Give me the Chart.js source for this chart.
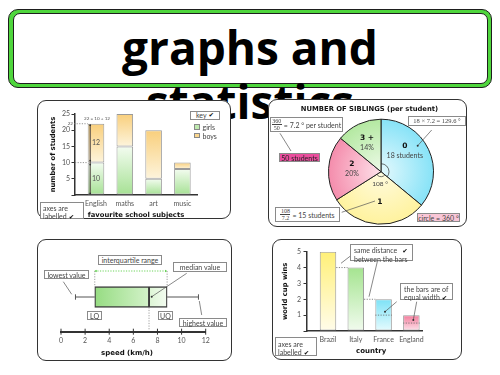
<!DOCTYPE html>
<html><head><meta charset="utf-8">
<script src="https://cdn.jsdelivr.net/npm/chart.js@4.4.1/dist/chart.umd.min.js"></script>
<style>
html,body{margin:0;padding:0;background:#fff;}
#root{position:relative;width:500px;height:375px;overflow:hidden;background:#fff;font-family:Lato,'DejaVu Sans',sans-serif;}
.abs{position:absolute;}
#tOuter{left:8px;top:9px;width:484px;height:79px;background:#4fd63d;border:1.5px solid #1e1e1e;border-radius:10px;box-sizing:border-box;}
#tInner{left:13px;top:13px;width:475px;height:71px;background:#fff;border:1.5px solid #1e1e1e;border-radius:7px;box-sizing:border-box;}
#title{left:0;top:20px;width:500px;text-align:center;font:700 46px/54px 'Open Sans',sans-serif;color:#000;}
.panel{position:absolute;background:#fff;border-radius:9px;}
.panel::after{content:'';position:absolute;left:0;top:0;right:0;bottom:0;border:1.3px solid #333;border-radius:9px;z-index:1;pointer-events:none;}
.panel canvas{position:absolute;left:0;top:0;}
.note{position:absolute;z-index:2;box-sizing:border-box;border:0.8px solid #8a8a8a;background:#fff;color:#444;font:7px/8px Lato,'DejaVu Sans',sans-serif;white-space:nowrap;display:flex;align-items:center;justify-content:center;}
.multi{display:block;text-align:left;padding:0.5px 2px;}
.txt{position:absolute;z-index:2;color:#444;font:7px/8px Lato,sans-serif;white-space:nowrap;}
.axt{position:absolute;z-index:2;color:#111;font:700 6.8px/8px 'DejaVu Sans',sans-serif;white-space:nowrap;}
.ck{font-family:'DejaVu Sans';font-size:6.5px;color:#111;margin-left:2px;}
.frac{display:inline-flex;flex-direction:column;align-items:center;font:6px/6px 'Liberation Serif',serif;margin-right:2px;}
.frac span:first-child{border-bottom:0.6px solid #444;padding:0 0.5px;}
.serif{font-family:'Liberation Serif',serif;font-size:6.5px;}
.sw{position:absolute;z-index:2;width:6px;height:5.4px;border:0.7px solid #888;box-sizing:border-box;}
</style></head>
<body>
<div id="root">
  <div id="tOuter" class="abs"></div>
  <div id="tInner" class="abs"></div>
  <div id="title" class="abs">graphs and<br>statistics</div>

  <div class="panel" style="left:37px;top:100px;width:194px;height:119px">
    <canvas id="c1" width="194" height="119"></canvas>
    <div class="note" style="left:153px;top:11px;width:30px;height:8.5px">key<span class="ck">✔</span></div>
    <div class="sw" id="swg" style="left:157px;top:24.3px"></div>
    <div class="txt" id="lg" style="left:165.5px;top:23px"></div>
    <div class="sw" id="swb" style="left:157px;top:32.7px"></div>
    <div class="txt" id="lb" style="left:165.5px;top:31.5px"></div>
    <div class="note multi" style="left:3px;top:102px;width:44px;height:17px">axes are<br>labelled<span class="ck">✔</span></div>
  </div>

  <div class="panel" style="left:268px;top:99px;width:199px;height:128px">
    <canvas id="c2" width="199" height="128"></canvas>
    <div class="txt" style="left:0;top:6px;width:203px;text-align:center;color:#111;font:700 6.8px/8px 'DejaVu Sans',sans-serif">NUMBER OF SIBLINGS (per student)</div>
    <div class="note" style="left:2px;top:18px;width:73px;height:15px"><span class="frac"><span>360</span><span>50</span></span>= 7.2 ° per student</div>
    <div class="note" style="left:11px;top:54px;width:41px;height:9px;background:#ea4d9d;color:#222">50 students</div>
    <div class="note serif" style="left:140px;top:17px;width:58px;height:10px">18 × 7.2 = 129.6 °</div>
    <div class="note" style="left:7px;top:108px;width:65px;height:15px"><span class="frac"><span>108</span><span>7.2</span></span>= 15 students</div>
    <div class="note" style="left:149px;top:114px;width:43px;height:9px;background:#f9c6d6">circle = 360 °</div>
  </div>

  <div class="panel" style="left:37px;top:239px;width:195px;height:122px">
    <canvas id="c3" width="195" height="122"></canvas>
    <div class="note" style="left:61px;top:16px;width:64px;height:10px">interquartile range</div>
    <div class="note" style="left:7px;top:31px;width:45px;height:9px">lowest value</div>
    <div class="note" style="left:136px;top:23px;width:54px;height:10px">median value</div>
    <div class="note" style="left:50px;top:72px;width:15px;height:9px">LQ</div>
    <div class="note" style="left:121px;top:72px;width:15px;height:9px">UQ</div>
    <div class="note" style="left:142px;top:79px;width:48px;height:9px">highest value</div>
    <div class="axt" style="left:64px;top:110px;width:45px;text-align:center;font-size:7px">speed (km/h)</div>
  </div>

  <div class="panel" style="left:272px;top:239px;width:190px;height:121px">
    <canvas id="c4" width="190" height="121"></canvas>
    <div class="note multi" style="left:78px;top:5px;width:63px;height:17px;padding-left:3px">same distance<span class="ck" style="margin-left:5px">✔</span><br>between the bars</div>
    <div class="note multi" style="left:128px;top:44px;width:53px;height:17px;padding-left:3px">the bars are of<br>equal width<span class="ck">✔</span></div>
    <div class="note multi" style="left:3px;top:98px;width:42px;height:19px;padding-top:1.5px">axes are<br>labelled<span class="ck">✔</span></div>
    <div class="axt" style="left:84px;top:108px;width:30px;text-align:center;font-size:7px">country</div>
  </div>
</div>

<script>
// ---------- data ----------
const subjects = ['English', 'maths', 'art', 'music'];
const girls = [10, 15, 5, 8];
const boys = [12, 10, 15, 2];
const studentTicks = [0, 5, 10, 15, 20, 25];

const siblingLabels = ['0', '1', '2', '3 +'];
const siblingCounts = [18, 15, 10, 7];

const speedBox = [1.2, 2.8, 7.3, 8.8, 11.4]; // lowest, LQ, median, UQ, highest
const speedTicks = [0, 2, 4, 6, 8, 10, 12];

const countries = ['Brazil', 'Italy', 'France', 'England'];
const wins = [5, 4, 2, 1];
const winTicks = [0, 1, 2, 3, 4, 5];

// ---------- styling ----------
Chart.defaults.font.family = "Lato, 'DejaVu Sans', sans-serif";
Chart.defaults.font.size = 7;
Chart.defaults.color = '#555';
const titleFont = {family: 'DejaVu Sans', weight: 'bold', size: 6.8, lineHeight: 1};

function vGrad(chart, yTop, yBot, cTop, cBot) {
  const g = chart.ctx.createLinearGradient(0, yTop, 0, yBot);
  g.addColorStop(0, cTop); g.addColorStop(1, cBot); return g;
}
function hGrad(chart, x1, x2, c1, c2) {
  const g = chart.ctx.createLinearGradient(x1, 0, x2, 0);
  g.addColorStop(0, c1); g.addColorStop(1, c2); return g;
}
function dotted(ctx, pts, color, w) {
  ctx.save(); ctx.setLineDash([1.2, 1.4]); ctx.strokeStyle = color; ctx.lineWidth = w || 0.8;
  ctx.beginPath(); ctx.moveTo(pts[0], pts[1]); ctx.lineTo(pts[2], pts[3]); ctx.stroke(); ctx.restore();
}
function connector(ctx, l, dot) {
  ctx.save(); ctx.strokeStyle = '#555'; ctx.lineWidth = 0.7;
  ctx.beginPath(); ctx.moveTo(l[0], l[1]); ctx.lineTo(l[2], l[3]); ctx.stroke();
  if (dot) { ctx.fillStyle = '#333'; ctx.beginPath(); ctx.arc(l[2], l[3], 1, 0, Math.PI * 2); ctx.fill(); }
  ctx.restore();
}
const yTicksFrom = arr => s => { s.ticks = arr.map(v => ({value: v})); };
const xTicksFrom = arr => s => { s.ticks = arr.map((_, i) => ({value: i + 1})); };

const girlsColor = '#bfeab0', boysColor = '#fbd78e';
document.getElementById('swg').style.background = girlsColor;
document.getElementById('swb').style.background = boysColor;
document.getElementById('lg').textContent = 'girls';
document.getElementById('lb').textContent = 'boys';

// ---------- chart 1 : stacked bars ----------
const p1Notes = {
  id: 'p1Notes',
  afterDatasetsDraw(chart) {
    const {ctx, scales: {x, y}} = chart;
    const g = chart.getDatasetMeta(0).data[0];
    const left = g.x - g.width / 2;
    const total = girls[0] + boys[0];
    dotted(ctx, [x.left - 1, y.getPixelForValue(total), left, y.getPixelForValue(total)], '#777');
    dotted(ctx, [x.left, y.getPixelForValue(girls[0]), left, y.getPixelForValue(girls[0])], '#777');
    ctx.save();
    ctx.font = "4.6px Lato, sans-serif"; ctx.fillStyle = '#555';
    ctx.textAlign = 'right'; ctx.textBaseline = 'middle';
    ctx.fillText(String(total), x.left - 2, y.getPixelForValue(total));
    ctx.textAlign = 'center';
    ctx.fillText(total + ' = ' + girls[0] + ' + ' + boys[0], g.x + 1, y.getPixelForValue(total) - 5.5);
    const lx = left + 2.5;
    ctx.strokeStyle = '#5a5048'; ctx.lineWidth = 1.2;
    ctx.beginPath(); ctx.moveTo(lx, y.getPixelForValue(total) + 1); ctx.lineTo(lx, y.getPixelForValue(0) - 1); ctx.stroke();
    ctx.fillStyle = '#333';
    [y.getPixelForValue(total) + 1.5, y.getPixelForValue(girls[0]) - 2, y.getPixelForValue(girls[0]) + 2, y.getPixelForValue(0) - 1.5].forEach(py => {
      ctx.beginPath(); ctx.arc(lx, py, 0.9, 0, Math.PI * 2); ctx.fill();
    });
    ctx.font = "7px Lato, sans-serif"; ctx.fillStyle = '#555';
    ctx.fillText(String(boys[0]), g.x, y.getPixelForValue(girls[0] + boys[0] / 2));
    ctx.fillText(String(girls[0]), g.x, y.getPixelForValue(girls[0] / 2));
    ctx.restore();
  }
};

new Chart(document.getElementById('c1'), {
  type: 'bar',
  data: {
    datasets: [
      {label: 'girls', data: girls.map((v, i) => ({x: i + 1, y: v})),
       backgroundColor: c => {
         const ch = c.chart; if (c.type !== 'data' || !ch.chartArea) return girlsColor;
         const y = ch.scales.y;
         return vGrad(ch, y.getPixelForValue(girls[c.dataIndex]), y.getPixelForValue(0), '#f3fcf0', '#a6e194');
       },
       borderColor: '#9a9a9a', borderWidth: 1, borderSkipped: false, barPercentage: 0.576, categoryPercentage: 1},
      {label: 'boys', data: boys.map((v, i) => ({x: i + 1, y: v})),
       backgroundColor: c => {
         const ch = c.chart; if (c.type !== 'data' || !ch.chartArea) return boysColor;
         const y = ch.scales.y, i = c.dataIndex;
         return vGrad(ch, y.getPixelForValue(girls[i] + boys[i]), y.getPixelForValue(girls[i]), '#f9cf7c', '#fdf4dc');
       },
       borderColor: '#9a9a9a', borderWidth: 1, borderSkipped: false, barPercentage: 0.576, categoryPercentage: 1}
    ]
  },
  options: {
    responsive: false, animation: false, devicePixelRatio: 1,
    layout: {padding: {left: 0, top: 14, right: 34, bottom: 0}},
    plugins: {legend: {display: false}, tooltip: {enabled: false}},
    scales: {
      x: {type: 'linear', offset: false, stacked: true, min: 0.271, max: 4.507,
          afterBuildTicks: xTicksFrom(subjects),
          ticks: {callback: v => subjects[v - 1] || '', padding: 4.5, autoSkip: false, maxRotation: 0},
          grid: {display: false, drawTicks: false, tickLength: 0}, border: {display: true, color: '#333', width: 1.5},
          title: {display: true, text: 'favourite school subjects', font: titleFont, color: '#111', padding: {top: 0, bottom: 0.6}},
          afterFit: s => { s.height = 24; }},
      y: {stacked: true, min: 0, max: 25,
          afterBuildTicks: yTicksFrom(studentTicks),
          ticks: {callback: v => v === 0 ? '' : v, padding: 1.5},
          grid: {drawOnChartArea: false, drawTicks: true, tickLength: 3.5, color: '#333', lineWidth: 1},
          border: {display: true, color: '#333', width: 1.5},
          title: {display: true, text: 'number of students', font: titleFont, color: '#111', padding: {top: 12.9, bottom: 0}},
          afterFit: s => { s.width = 38; }}
    }
  },
  plugins: [p1Notes]
});

// ---------- chart 2 : pie ----------
const pieInner = ['#e4f9fd', '#fffbe0', '#fde1ea', '#edfae8'];
const pieOuter = ['#84e2f7', '#fff29c', '#f48aaa', '#b2e89f'];
const total2 = siblingCounts.reduce((a, b) => a + b, 0);
const pieLabelPos = [[49, 0.6], [182, 0.58], [275, 0.555], [334, 0.61]];
const p2Notes = {
  id: 'p2Notes',
  afterDatasetsDraw(chart) {
    const {ctx} = chart;
    const arcs = chart.getDatasetMeta(0).data;
    const cx = arcs[0].x, cy = arcs[0].y, R = arcs[0].outerRadius;
    ctx.save();
    ctx.strokeStyle = '#333'; ctx.lineWidth = 0.7;
    ctx.beginPath(); ctx.arc(cx, cy, 8, arcs[0].startAngle, arcs[0].endAngle); ctx.stroke();
    ctx.beginPath(); ctx.arc(cx, cy, 5, arcs[1].startAngle, arcs[1].endAngle); ctx.stroke();
    ctx.textAlign = 'center'; ctx.textBaseline = 'middle';
    siblingCounts.forEach((v, i) => {
      const a = pieLabelPos[i][0] * Math.PI / 180, r = pieLabelPos[i][1] * R;
      const px = cx + Math.sin(a) * r, py = cy - Math.cos(a) * r;
      let second = '';
      if (i === 0) second = v + ' students';
      if (i >= 2) second = Math.round(v / total2 * 100) + '%';
      ctx.fillStyle = '#111';
      ctx.font = "bold 7.5px 'DejaVu Sans', sans-serif";
      ctx.fillText(siblingLabels[i], px, second ? py - 5 : py);
      if (second) { ctx.font = "7px Lato, sans-serif"; ctx.fillStyle = '#444'; ctx.fillText(second, px, py + 5); }
    });
    ctx.font = "6.5px Lato, sans-serif"; ctx.fillStyle = '#444';
    ctx.fillText(Math.round(siblingCounts[1] * 360 / total2) + ' °', cx - 1, cy + 12.5);
    ctx.restore();
    connector(ctx, [12, 34.3, 23, 52], false);
    connector(ctx, [163.7, 31, 149.7, 46.7], true);
    connector(ctx, [73.7, 113.3, 107, 102], false);
  }
};
new Chart(document.getElementById('c2'), {
  type: 'pie',
  data: {labels: siblingLabels, datasets: [{
    data: siblingCounts,
    backgroundColor: c => {
      const ch = c.chart, a = ch.chartArea, i = c.dataIndex;
      if (c.type !== 'data' || !a) return pieOuter[i];
      const cx = (a.left + a.right) / 2, cy = (a.top + a.bottom) / 2;
      const g = ch.ctx.createRadialGradient(cx, cy, 0, cx, cy, 54);
      g.addColorStop(0, pieInner[i]); g.addColorStop(1, pieOuter[i]); return g;
    },
    borderColor: '#222', borderWidth: 1
  }]},
  options: {
    responsive: false, animation: false, devicePixelRatio: 1, radius: 52.5,
    layout: {padding: {left: 60.5, right: 33.5, top: 20.2, bottom: 2.8}},
    plugins: {legend: {display: false}, tooltip: {enabled: false}}
  },
  plugins: [p2Notes]
});

// ---------- chart 3 : box plot ----------
const p3Notes = {
  id: 'p3Notes',
  afterDatasetsDraw(chart) {
    const {ctx, scales: {x}} = chart;
    const bar = chart.getDatasetMeta(0).data[0];
    const cy = bar.y, h = bar.height;
    const top = cy - h / 2, bot = cy + h / 2;
    const [mn, lq, md, uq, mx] = speedBox.map(v => x.getPixelForValue(v));
    ctx.save();
    ctx.strokeStyle = '#555'; ctx.lineWidth = 1;
    ctx.beginPath();
    ctx.moveTo(mn, cy); ctx.lineTo(lq, cy);
    ctx.moveTo(uq, cy); ctx.lineTo(mx, cy);
    ctx.moveTo(mn, cy - 2.7); ctx.lineTo(mn, cy + 2.7);
    ctx.moveTo(mx, cy - 2.7); ctx.lineTo(mx, cy + 2.7);
    ctx.stroke();
    const ay = x.top;
    ctx.strokeStyle = '#333'; ctx.lineWidth = 1;
    ctx.beginPath();
    speedTicks.forEach(v => { const px = x.getPixelForValue(v); ctx.moveTo(px, ay - 3); ctx.lineTo(px, ay + 3); });
    ctx.stroke();
    ctx.restore();
    const gy = 32;
    dotted(ctx, [lq, gy, uq, gy], '#5bcf48', 0.9);
    dotted(ctx, [lq, gy, lq, top], '#888');
    dotted(ctx, [uq, gy, uq, top], '#888');
    dotted(ctx, [md, bot, md, ay - 1], '#888');
    ctx.save(); ctx.fillStyle = '#5bcf48';
    ctx.beginPath(); ctx.moveTo(lq, gy); ctx.lineTo(lq + 2, gy - 1.2); ctx.lineTo(lq + 2, gy + 1.2); ctx.fill();
    ctx.beginPath(); ctx.moveTo(uq, gy); ctx.lineTo(uq - 2, gy - 1.2); ctx.lineTo(uq - 2, gy + 1.2); ctx.fill();
    ctx.restore();
    connector(ctx, [26.3, 42.7, 34.7, 55.3], false);
    connector(ctx, [149.7, 34.3, 114.7, 57.7], true);
    connector(ctx, [164.7, 76, 162.3, 62], false);
  }
};
new Chart(document.getElementById('c3'), {
  type: 'bar',
  data: {labels: ['speed'], datasets: [
    {data: [[speedBox[1], speedBox[2]]], grouped: false, barThickness: 20.6,
     backgroundColor: c => { const ch = c.chart; if (!ch.chartArea) return '#b9e9aa';
       const x = ch.scales.x; return hGrad(ch, x.getPixelForValue(speedBox[1]), x.getPixelForValue(speedBox[2]), '#96dc82', '#d3f2c9'); },
     borderColor: '#3d3d3d', borderWidth: 1.3, borderSkipped: false},
    {data: [[speedBox[2], speedBox[3]]], grouped: false, barThickness: 20.6,
     backgroundColor: c => { const ch = c.chart; if (!ch.chartArea) return '#e3f7dc';
       const x = ch.scales.x; return hGrad(ch, x.getPixelForValue(speedBox[2]), x.getPixelForValue(speedBox[3]), '#dcf5d4', '#f4fcf1'); },
     borderColor: '#3d3d3d', borderWidth: 1.3, borderSkipped: false}
  ]},
  options: {
    indexAxis: 'y', responsive: false, animation: false, devicePixelRatio: 1,
    layout: {padding: {left: 24, right: 26.3, top: 23.3, bottom: 0}},
    plugins: {legend: {display: false}, tooltip: {enabled: false}},
    scales: {
      x: {type: 'linear', min: 0, max: 12,
          afterBuildTicks: s => { s.ticks = speedTicks.map(v => ({value: v})); },
          ticks: {padding: 5},
          grid: {display: false, drawTicks: false, tickLength: 0}, border: {display: true, color: '#333', width: 2},
          afterFit: s => { s.height = 29.3; }},
      y: {display: false}
    }
  },
  plugins: [p3Notes]
});

// ---------- chart 4 : bars ----------
const winTop = ['#fff078', '#a5e490', '#7de2f6', '#f27a9a'];
const winBot = ['#fffcea', '#f1fbee', '#e6fbfe', '#fde4ec'];
const p4Notes = {
  id: 'p4Notes',
  afterDatasetsDraw(chart) {
    const {ctx, scales: {y}} = chart;
    const b = chart.getDatasetMeta(0).data;
    const L = e => e.x - e.width / 2, R = e => e.x + e.width / 2;
    const py = v => y.getPixelForValue(v);
    dotted(ctx, [R(b[0]), py(wins[1]), L(b[1]), py(wins[1])], '#666');
    dotted(ctx, [R(b[1]), py(wins[2]), L(b[2]), py(wins[2])], '#666');
    dotted(ctx, [L(b[2]), py(wins[2] / 2), R(b[2]), py(wins[2] / 2)], '#666');
    dotted(ctx, [L(b[3]), py(wins[3] / 2), R(b[3]), py(wins[3] / 2)], '#666');
    connector(ctx, [79.7, 16, 69, 24.3], false);
    connector(ctx, [105.3, 22.7, 97, 57.7], false);
    connector(ctx, [124.7, 62.7, 113, 72.7], true);
    connector(ctx, [144.7, 62.7, 141.3, 81], true);
  }
};
new Chart(document.getElementById('c4'), {
  type: 'bar',
  data: {datasets: [{
    data: wins.map((v, i) => ({x: i + 1, y: v})),
    backgroundColor: c => {
      const ch = c.chart; if (c.type !== 'data' || !ch.chartArea) return '#ccc';
      const y = ch.scales.y, i = c.dataIndex;
      return vGrad(ch, y.getPixelForValue(wins[i]), y.getPixelForValue(0), winTop[i], winBot[i]);
    },
    borderColor: '#9a9a9a', borderWidth: 1, borderSkipped: false, barPercentage: 0.594, categoryPercentage: 1
  }]},
  options: {
    responsive: false, animation: false, devicePixelRatio: 1,
    layout: {padding: {left: 0, top: 12.7, right: 40, bottom: 0}},
    plugins: {legend: {display: false}, tooltip: {enabled: false}},
    scales: {
      x: {type: 'linear', offset: false, min: 0.245, max: 4.382,
          afterBuildTicks: xTicksFrom(countries),
          ticks: {callback: v => countries[v - 1] || '', padding: 4.5, autoSkip: false, maxRotation: 0},
          grid: {display: false, drawTicks: false, tickLength: 0}, border: {display: true, color: '#333', width: 1.5},
          afterFit: s => { s.height = 29; }},
      y: {min: 0, max: 5,
          afterBuildTicks: yTicksFrom(winTicks),
          ticks: {callback: v => v === 0 ? '' : v, padding: 2.5},
          grid: {drawOnChartArea: false, drawTicks: true, tickLength: 3.5, color: '#333', lineWidth: 1},
          border: {display: true, color: '#333', width: 1.5},
          title: {display: true, text: 'world cup wins', font: titleFont, color: '#111', padding: {top: 9.6, bottom: 0}},
          afterFit: s => { s.width = 35; }}
    }
  },
  plugins: [p4Notes]
});
</script>
</body></html>
